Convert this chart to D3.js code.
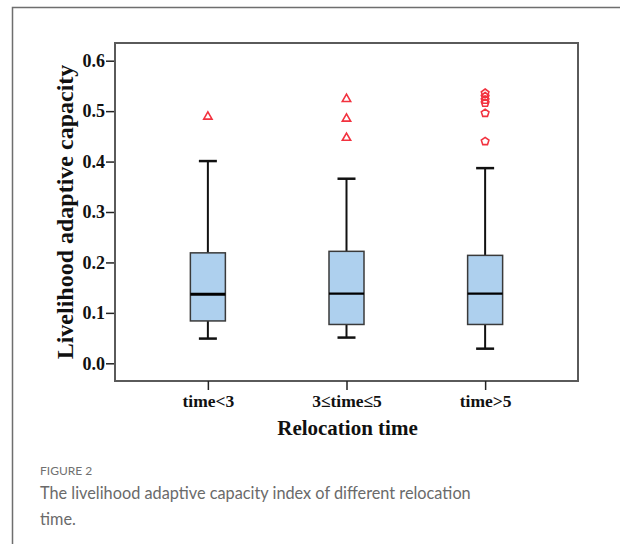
<!DOCTYPE html>
<html>
<head>
<meta charset="utf-8">
<script src="https://cdn.jsdelivr.net/npm/d3@7"></script>
<style>
  body { margin: 0; background: #fff; }
  svg { display: block; }
</style>
</head>
<body>
<div id="chart"></div>
<script>
// Values
const groups = ["time<3", "3\u2264time\u22645", "time>5"];
const whiskerLow = [0.049, 0.051, 0.029];
const q1 = [0.084, 0.077, 0.077];
const median = [0.137, 0.138, 0.138];
const q3 = [0.219, 0.222, 0.214];
const whiskerHigh = [0.401, 0.366, 0.387];
const outliers = [
  [0.489],
  [0.524, 0.485, 0.447],
  [0.536, 0.529, 0.522, 0.516, 0.496, 0.44],
];
const outlierShape = ["triangle", "triangle", "pentagon"];
const yTicks = [0, 0.1, 0.2, 0.3, 0.4, 0.5, 0.6];

const W = 620, H = 544;
const frame = { left: 115, right: 578, top: 43, bottom: 381 };

const svg = d3
  .select("#chart")
  .append("svg")
  .attr("width", W)
  .attr("height", H);

// Outer card border (only top and left visible)
svg
  .append("path")
  .attr("d", `M12.5,${H} V7.5 H${W}`)
  .attr("fill", "none")
  .attr("stroke", "#6e6e6e")
  .attr("stroke-width", 1.5);

const x = d3
  .scalePoint()
  .domain(groups)
  .range([frame.left, frame.right])
  .padding(0.67);

const y = d3.scaleLinear().domain([0, 0.6]).range([363.3, 60.7]);

const serif = "'Liberation Serif', 'Times New Roman', serif";

// Plot frame
svg
  .append("rect")
  .attr("x", frame.left)
  .attr("y", frame.top)
  .attr("width", frame.right - frame.left)
  .attr("height", frame.bottom - frame.top)
  .attr("fill", "none")
  .attr("stroke", "#5a5a5a")
  .attr("stroke-width", 2);

// Y axis
const yAxis = svg
  .append("g")
  .attr("transform", `translate(${frame.left - 1},0)`)
  .call(
    d3.axisLeft(y)
      .tickValues(yTicks)
      .tickFormat(d3.format(".1f"))
      .tickSize(8)
      .tickPadding(1)
  );
yAxis.select(".domain").remove();
yAxis.selectAll(".tick line").attr("stroke", "#222").attr("stroke-width", 1.5);
yAxis
  .selectAll(".tick text")
  .style("font-family", serif)
  .style("font-weight", "bold")
  .style("font-size", "18px")
  .attr("fill", "#111");

// X axis (ticks hang below the frame)
const xAxis = svg
  .append("g")
  .attr("transform", `translate(0,${frame.bottom})`)
  .call(d3.axisBottom(x).tickSize(9).tickPadding(5));
xAxis.select(".domain").remove();
xAxis.selectAll(".tick line").attr("stroke", "#222").attr("stroke-width", 1.5);
xAxis
  .selectAll(".tick text")
  .style("font-family", serif)
  .style("font-weight", "bold")
  .style("font-size", "17.5px")
  .attr("fill", "#111");

// Axis titles
svg
  .append("text")
  .attr("transform", `translate(73,${(y(0) + y(0.6)) / 2}) rotate(-90)`)
  .attr("text-anchor", "middle")
  .style("font-family", serif)
  .style("font-weight", "bold")
  .style("font-size", "24px")
  .attr("fill", "#111")
  .text("Livelihood adaptive capacity");

svg
  .append("text")
  .attr("x", (frame.left + frame.right) / 2 + 1)
  .attr("y", 435)
  .attr("text-anchor", "middle")
  .style("font-family", serif)
  .style("font-weight", "bold")
  .style("font-size", "21px")
  .attr("fill", "#111")
  .text("Relocation time");

// Box plot marks
const boxW = 35, capW = 18;
const boxes = svg
  .selectAll(".box")
  .data(groups)
  .enter()
  .append("g")
  .attr("class", "box");

// whisker stems
boxes
  .append("line")
  .attr("x1", (d) => x(d))
  .attr("x2", (d) => x(d))
  .attr("y1", (d, i) => y(whiskerHigh[i]))
  .attr("y2", (d, i) => y(q3[i]))
  .attr("stroke", "#111")
  .attr("stroke-width", 2);
boxes
  .append("line")
  .attr("x1", (d) => x(d))
  .attr("x2", (d) => x(d))
  .attr("y1", (d, i) => y(q1[i]))
  .attr("y2", (d, i) => y(whiskerLow[i]))
  .attr("stroke", "#111")
  .attr("stroke-width", 2);

// caps
[whiskerHigh, whiskerLow].forEach((arr) => {
  boxes
    .append("line")
    .attr("x1", (d) => x(d) - capW / 2)
    .attr("x2", (d) => x(d) + capW / 2)
    .attr("y1", (d, i) => y(arr[i]))
    .attr("y2", (d, i) => y(arr[i]))
    .attr("stroke", "#111")
    .attr("stroke-width", 2.5);
});

// box
boxes
  .append("rect")
  .attr("x", (d) => x(d) - boxW / 2)
  .attr("y", (d, i) => y(q3[i]))
  .attr("width", boxW)
  .attr("height", (d, i) => y(q1[i]) - y(q3[i]))
  .attr("fill", "#aed0ee")
  .attr("stroke", "#3a3a3a")
  .attr("stroke-width", 1.5);

// median
boxes
  .append("line")
  .attr("x1", (d) => x(d) - boxW / 2)
  .attr("x2", (d) => x(d) + boxW / 2)
  .attr("y1", (d, i) => y(median[i]))
  .attr("y2", (d, i) => y(median[i]))
  .attr("stroke", "#000")
  .attr("stroke-width", (d, i) => (i === 0 ? 3 : 2.2));

// Outliers
const pentagon = {
  draw(context, size) {
    const r = Math.sqrt(size / 2.378);
    for (let k = 0; k < 5; k++) {
      const a = -Math.PI / 2 + (k * 2 * Math.PI) / 5;
      const px = r * Math.cos(a), py = r * Math.sin(a);
      if (k === 0) context.moveTo(px, py);
      else context.lineTo(px, py);
    }
    context.closePath();
  },
};

const outlierData = [];
groups.forEach((g, i) => {
  outliers[i].forEach((v) => outlierData.push({ g, v, shape: outlierShape[i] }));
});

svg
  .selectAll(".outlier")
  .data(outlierData)
  .enter()
  .append("path")
  .attr("class", "outlier")
  .attr("transform", (d) => `translate(${x(d.g)},${y(d.v)})`)
  .attr("d", (d) =>
    d.shape === "triangle"
      ? d3.symbol(d3.symbolTriangle, 30)()
      : d3.symbol(pentagon, 38)()
  )
  .attr("fill", "none")
  .attr("stroke", "#f2323f")
  .attr("stroke-width", 1.6);

// Caption
const sans = "Lato, 'Open Sans', sans-serif";
svg
  .append("text")
  .attr("x", 40)
  .attr("y", 475)
  .style("font-family", sans)
  .style("font-size", "12px")
  .attr("fill", "#707070")
  .text("FIGURE 2");

const captionLines = [
  "The livelihood adaptive capacity index of different relocation",
  "time.",
];
svg
  .selectAll(".caption")
  .data(captionLines)
  .enter()
  .append("text")
  .attr("class", "caption")
  .attr("x", 40)
  .attr("y", (d, i) => 499 + i * 26)
  .style("font-family", sans)
  .style("font-size", "16.3px")
  .attr("fill", "#6a6a6a")
  .text((d) => d);
</script>
</body>
</html>
